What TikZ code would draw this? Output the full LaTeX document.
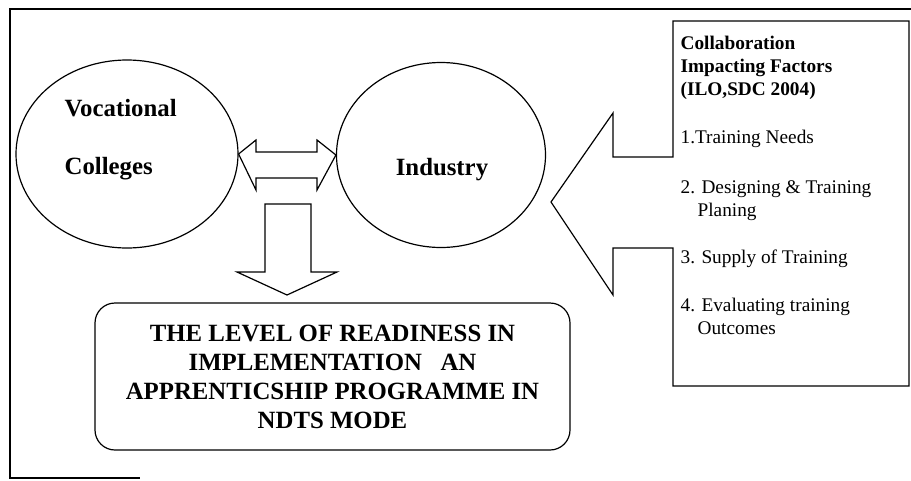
\documentclass[tikz,border=0pt]{standalone}
\usepackage{fontspec}
\setmainfont{Liberation Serif}
\usetikzlibrary{shapes.geometric}

\begin{document}
\begin{tikzpicture}[x=1pt,y=-1pt,line width=1.2pt,
	blob/.style={shape=ellipse,draw=black,inner sep=0pt},
	bigtext/.style={inner sep=0pt,font=\fontsize{24.8}{29}\selectfont\bfseries},
	factor/.style={anchor=north west,align=left,inner sep=0pt,font=\fontsize{19.3}{23}\selectfont}]
	\useasboundingbox (0,0) rectangle (911,480);

	% outer frame
	\draw (911,9) -- (10,9) -- (10,478) -- (140,478);

	\node[blob,minimum width=222pt,minimum height=188pt] (voc) at (127,154) {};
	\node[blob,minimum width=209pt,minimum height=185pt] (ind) at (441,155) {};
	\node[bigtext,anchor=base west] (vtext) at (64,116) {Vocational};
	\node[bigtext,anchor=base west] (ctext) at (64,174) {Colleges};
	\node[bigtext,anchor=base] (itext) at (442,175) {Industry};

	% block arrows
	\draw (voc.east) -- (256,140) -- (256,152) -- (317,152) -- (317,140) -- (ind.west)
		-- (317,190) -- (317,178) -- (256,178) -- (256,190) -- cycle;
	\draw (265,204) -- (311,204) -- (311,272) -- (337,272) -- (287,295) -- (237,272) -- (265,272) -- cycle;

	\node[draw,rounded corners=20pt,minimum width=475pt,minimum height=147pt,align=center,
		bigtext] (mode) at (332.5,376.5)
		{THE LEVEL OF READINESS IN\\IMPLEMENTATION\ \ \ AN\\APPRENTICSHIP PROGRAMME IN\\NDTS MODE};

	% factors box with callout
	\draw (909,21) -- (673,21) -- (673,157) -- (613,157) -- (613,113) -- (551,202)
		-- (613,295) -- (613,248) -- (673,248) -- (673,386) -- (909,386) -- cycle;

	\node[factor,font=\fontsize{19.3}{23}\selectfont\bfseries] (head) at (680,36)
		{Collaboration\\Impacting Factors\\(ILO,SDC 2004)};
	\node[factor] (f1) at (680,130) {1.Training Needs};
	\node[factor] (f2) at (680,180) {2. Designing \& Training\\\hspace*{17pt}Planing};
	\node[factor] (f3) at (680,249) {3. Supply of Training};
	\node[factor] (f4) at (680,298) {4. Evaluating training\\\hspace*{17pt}Outcomes};
\end{tikzpicture}
\end{document}
